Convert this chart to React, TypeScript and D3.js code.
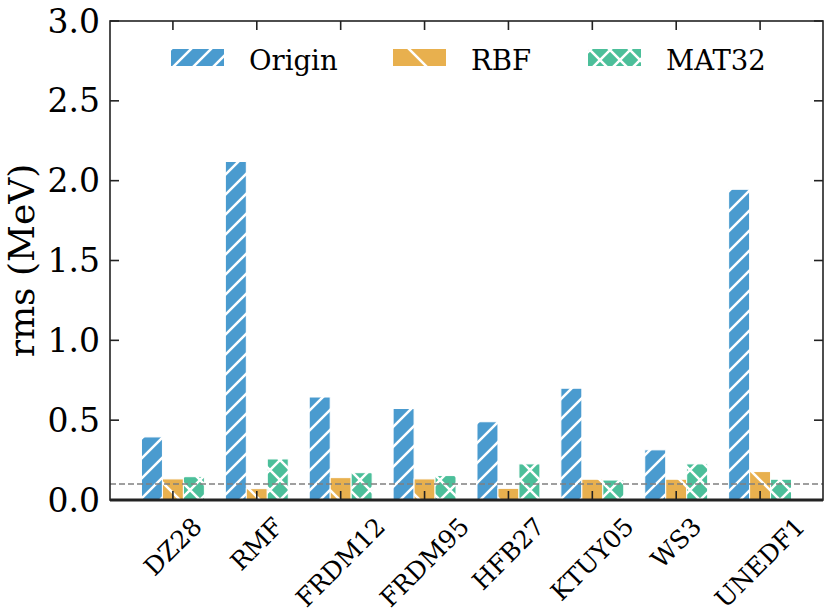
import React, { useEffect, useRef } from "react";
import * as d3 from "d3";

const models = ["DZ28", "RMF", "FRDM12", "FRDM95", "HFB27", "KTUY05", "WS3", "UNEDF1"];
const origin = [0.395, 2.12, 0.645, 0.573, 0.49, 0.7, 0.314, 1.946];
const rbf = [0.132, 0.071, 0.14, 0.132, 0.073, 0.13, 0.13, 0.178];
const mat32 = [0.146, 0.257, 0.171, 0.153, 0.226, 0.125, 0.226, 0.13];
const seriesNames = ["Origin", "RBF", "MAT32"];
const yTicks = [0, 0.5, 1.0, 1.5, 2.0, 2.5, 3.0];
const refLine = 0.1;

const blue = "#4a9bcf";
const orange = "#e8b04e";
const green = "#4cbf9a";
const font = "DejaVu Serif";

const App = () => {
  const ref = useRef<SVGSVGElement>(null);
  const width = 830;
  const height = 614;
  const left = 110;
  const right = 823;
  const top = 21;
  const bottom = 500;

  useEffect(() => {
    const svg = d3.select(ref.current);
    svg.selectAll("*").remove();

    const xScale = d3.scaleLinear().domain([-0.75, models.length - 0.25]).range([left, right]);
    const yScale = d3.scaleLinear().domain([0, 3]).range([bottom, top]);
    const bw = xScale(0.25) - xScale(0);

    // hatch patterns, like matplotlib's "//", "\" and "xx"
    const defs = svg.append("defs");
    const addPattern = (id: string, color: string, p: number, dirs: string) => {
      const pat = defs
        .append("pattern")
        .attr("id", id)
        .attr("patternUnits", "userSpaceOnUse")
        .attr("width", p)
        .attr("height", p);
      pat.append("rect").attr("width", p).attr("height", p).attr("fill", color);
      let d = "";
      if (dirs.includes("/"))
        d += `M0,${p}L${p},0M${-p / 2},${p / 2}L${p / 2},${-p / 2}M${p / 2},${p * 1.5}L${p * 1.5},${p / 2}`;
      if (dirs.includes("\\"))
        d += `M0,0L${p},${p}M${-p / 2},${p / 2}L${p / 2},${p * 1.5}M${p / 2},${-p / 2}L${p * 1.5},${p / 2}`;
      pat.append("path").attr("d", d).attr("stroke", "#fff").attr("stroke-width", 2.5);
    };
    addPattern("hOrigin", blue, 20, "/");
    addPattern("hRBF", orange, 40, "\\");
    addPattern("hMAT", green, 20, "/\\");

    const series = [
      { values: origin, fill: "url(#hOrigin)", off: -0.25 },
      { values: rbf, fill: "url(#hRBF)", off: 0 },
      { values: mat32, fill: "url(#hMAT)", off: 0.25 },
    ];

    series.forEach((s) => {
      svg
        .append("g")
        .selectAll("rect")
        .data(s.values)
        .join("rect")
        .attr("x", (d, i) => xScale(i + s.off) - bw / 2)
        .attr("y", (d) => yScale(d))
        .attr("width", bw)
        .attr("height", (d) => yScale(0) - yScale(d))
        .attr("fill", s.fill)
        .attr("stroke", "#fff")
        .attr("stroke-width", 1);
    });

    svg
      .append("line")
      .attr("x1", left)
      .attr("x2", right)
      .attr("y1", yScale(refLine))
      .attr("y2", yScale(refLine))
      .attr("stroke", "#808080")
      .attr("stroke-width", 1.6)
      .attr("stroke-dasharray", "6 3");

    // ticks, all pointing inwards
    const tl = 9;
    const ticks = svg.append("g").attr("stroke", "#222").attr("stroke-width", 1.6);
    yTicks.forEach((t) => {
      ticks.append("line").attr("x1", left).attr("x2", left + tl).attr("y1", yScale(t)).attr("y2", yScale(t));
      ticks.append("line").attr("x1", right - tl).attr("x2", right).attr("y1", yScale(t)).attr("y2", yScale(t));
    });
    models.forEach((m, i) => {
      ticks.append("line").attr("x1", xScale(i)).attr("x2", xScale(i)).attr("y1", top).attr("y2", top + tl);
      ticks.append("line").attr("x1", xScale(i)).attr("x2", xScale(i)).attr("y1", bottom).attr("y2", bottom - tl);
    });

    // frame
    svg
      .append("rect")
      .attr("x", left)
      .attr("y", top)
      .attr("width", right - left)
      .attr("height", bottom - top)
      .attr("fill", "none")
      .attr("stroke", "#222")
      .attr("stroke-width", 1.6);
    svg
      .append("line")
      .attr("x1", left)
      .attr("x2", right)
      .attr("y1", yScale(0))
      .attr("y2", yScale(0))
      .attr("stroke", "#222")
      .attr("stroke-width", 3);

    // y tick labels
    svg
      .append("g")
      .selectAll("text")
      .data(yTicks)
      .join("text")
      .attr("x", left - 10)
      .attr("y", (d) => yScale(d))
      .attr("text-anchor", "end")
      .attr("dominant-baseline", "central")
      .attr("font-family", font)
      .attr("font-size", 33)
      .text((d) => d3.format(".1f")(d));

    svg
      .append("text")
      .attr("transform", `translate(21,${(top + bottom) / 2}) rotate(-90)`)
      .attr("text-anchor", "middle")
      .attr("dominant-baseline", "central")
      .attr("font-family", font)
      .attr("font-size", 36)
      .text("rms (MeV)");

    // x tick labels, rotated 45deg and centred under the tick
    models.forEach((m, i) => {
      const t = svg
        .append("text")
        .attr("text-anchor", "middle")
        .attr("dominant-baseline", "central")
        .attr("font-family", font)
        .attr("font-size", 25)
        .text(m);
      const bb = (t.node() as SVGTextElement).getBBox();
      const half = (bb.width + bb.height) / (2 * Math.SQRT2);
      t.attr("transform", `translate(${xScale(i)},${bottom + 12 + half}) rotate(-45)`);
    });

    // legend
    const legendX = [171, 393, 588];
    const fills = ["url(#hOrigin)", "url(#hRBF)", "url(#hMAT)"];
    seriesNames.forEach((name, i) => {
      svg
        .append("rect")
        .attr("x", legendX[i])
        .attr("y", 49)
        .attr("width", 53)
        .attr("height", 17)
        .attr("fill", fills[i]);
      svg
        .append("text")
        .attr("x", legendX[i] + 78)
        .attr("y", 70)
        .attr("font-family", font)
        .attr("font-size", 27.5)
        .text(name);
    });
  }, []);

  return (
    <div>
      <svg
        ref={ref}
        width={width}
        height={height}
        style={{ position: "absolute", left: 0, top: 0, background: "#fff" }}
      ></svg>
    </div>
  );
};

export default App;
